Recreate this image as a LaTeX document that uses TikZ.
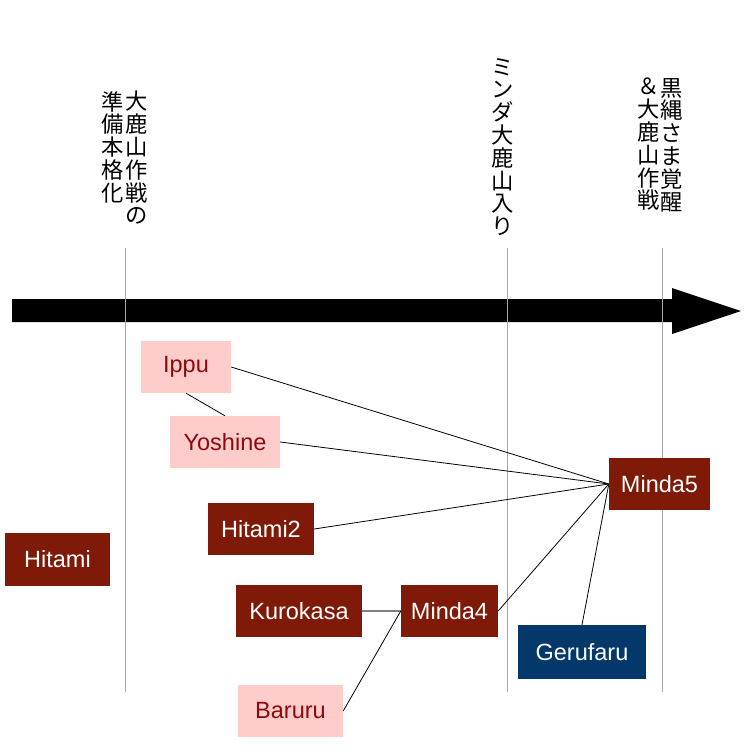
\documentclass[tikz,border=0pt]{standalone}
\usepackage{fontspec}
\setmainfont{Liberation Sans}
\newfontfamily\jpfont{Noto Sans CJK JP}
\usetikzlibrary{positioning}
\definecolor{CastRed}{HTML}{7F1A08}
\definecolor{CastPink}{HTML}{FFCCCC}
\definecolor{CastNavy}{HTML}{04386B}
\definecolor{CastInk}{HTML}{8E0A0A}
\definecolor{GuideGray}{HTML}{A8A8A8}

\tikzset{
  chara/.style={rectangle,inner sep=0pt,minimum height=52pt,font=\fontsize{23.5}{26}\selectfont},
  redbox/.style={chara,fill=CastRed,text=white},
  pinkbox/.style={chara,fill=CastPink,text=CastInk},
  navybox/.style={chara,fill=CastNavy,text=white},
  tate/.style={anchor=north,inner sep=0pt,align=center,font=\jpfont\fontsize{22.3}{22.8}\selectfont},
  link/.style={black,line width=0.8pt},
  guide/.style={GuideGray,line width=0.9pt}
}

\begin{document}
\begin{tikzpicture}[x=1pt,y=-1pt]
  \useasboundingbox (0,0) rectangle (756,756);
  % time arrow
  \fill[black] (12,299) -- (672,299) -- (672,288) -- (741,311) -- (672,334) -- (672,322) -- (12,322) -- cycle;
  % event guides
  \foreach \x in {125,507,662}
    \draw[guide] (\x,248) -- (\x,692);
  % event labels
  \node[tate] (evA1) at (136.5,91) {大\\鹿\\山\\作\\戦\\の};
  \node[tate] (evA2) at (112.5,91) {準\\備\\本\\格\\化};
  \node[tate] (evB) at (503,58) {ミ\\ン\\ダ\\大\\鹿\\山\\入\\り};
  \node[tate] (evC1) at (672,78) {黒\\縄\\さ\\ま\\覚\\醒};
  \node[tate] (evC2) at (649,78) {＆\\大\\鹿\\山\\作\\戦};
  % characters
  \node[pinkbox,minimum width=90pt] (ippu) at (186,367) {Ippu};
  \node[pinkbox,minimum width=110pt] (yoshine) at (225,442) {Yoshine};
  \node[redbox,minimum width=106pt] (hitami2) at (261,529) {Hitami2};
  \node[redbox,minimum width=105pt,minimum height=53pt] (hitami) at (57.5,559) {Hitami};
  \node[redbox,minimum width=126pt] (kurokasa) at (299,611) {Kurokasa};
  \node[redbox,minimum width=97pt] (minda4) at (449.5,611) {Minda4};
  \node[pinkbox,minimum width=105pt] (baruru) at (290.5,711) {Baruru};
  \node[navybox,minimum width=128pt,minimum height=54pt] (gerufaru) at (582,652) {Gerufaru};
  \node[redbox,minimum width=101pt] (minda5) at (659.5,484) {Minda5};
  % relations
  \draw[link] (ippu.south) -- (yoshine.north);
  \draw[link] (ippu.east) -- (minda5.west);
  \draw[link] (yoshine.east) -- (minda5.west);
  \draw[link] (hitami2.east) -- (minda5.west);
  \draw[link] (minda4.east) -- (minda5.west);
  \draw[link] (gerufaru.north) -- (minda5.west);
  \draw[gray,line width=1.6pt] (kurokasa.east) -- (minda4.west);
  \draw[link] (baruru.east) -- (minda4.west);
\end{tikzpicture}
\end{document}
